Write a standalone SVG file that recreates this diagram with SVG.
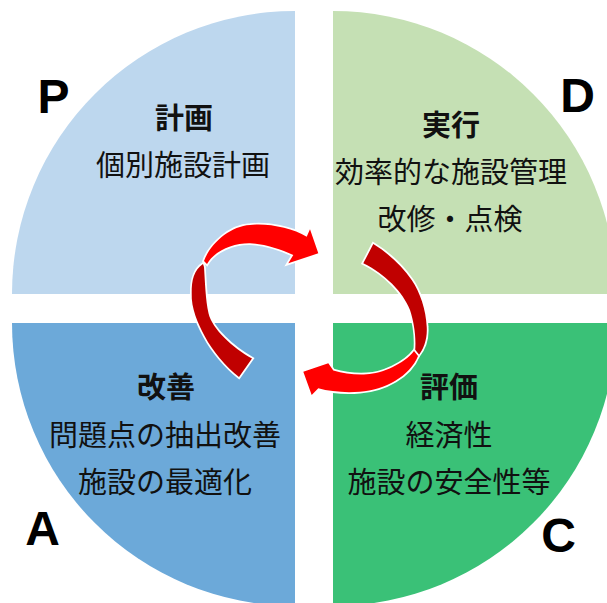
<svg xmlns="http://www.w3.org/2000/svg" width="607" height="603" viewBox="0 0 607 603">
<style>
.t{font-family:"Noto Sans CJK JP","Noto Sans",sans-serif;font-size:29px;fill:#111;text-anchor:middle}
.h{font-weight:bold}
.L{font-family:"Liberation Sans",Arial,sans-serif;font-size:48px;font-weight:bold;fill:#000;text-anchor:middle}
.dk{fill:#C00000;stroke:#fff;stroke-width:3.5;stroke-linejoin:miter;paint-order:stroke}
.br{fill:#FF0000;stroke:#fff;stroke-width:3.5;stroke-linejoin:miter;paint-order:stroke}
</style>
<rect width="607" height="603" fill="#fff"/>
<g id="plan">
<path d="M295,294 L12,294 A283,283 0 0 1 295,11 Z" fill="#BDD7EE"/>
<text class="L" x="53.5" y="113">P</text>
<text class="t h" x="184" y="129">計画</text>
<text class="t" x="183" y="176">個別施設計画</text>
</g>
<g id="do">
<path d="M333,294 L333,11 A283,283 0 0 1 616,294 Z" fill="#C5E0B4"/>
<text class="L" x="577.5" y="112">D</text>
<text class="t h" x="451" y="136">実行</text>
<text class="t" x="451" y="183">効率的な施設管理</text>
<text class="t" x="450" y="230">改修・点検</text>
</g>
<g id="act">
<path d="M295,323 L295,606 A283,283 0 0 1 12,323 Z" fill="#6CA9D9"/>
<text class="L" x="42.5" y="545">A</text>
<text class="t h" x="166" y="398">改善</text>
<text class="t" x="165" y="446">問題点の抽出改善</text>
<text class="t" x="165" y="493">施設の最適化</text>
</g>
<g id="check">
<path d="M333,323 L616,323 A283,283 0 0 1 333,606 Z" fill="#3AC177"/>
<text class="L" x="558.5" y="552">C</text>
<text class="t h" x="449" y="398">評価</text>
<text class="t" x="449" y="446">経済性</text>
<text class="t" x="449" y="493">施設の安全性等</text>
</g>
<g id="connectors">
<path class="dk" d="M239,377 C226,367 212,350 205,336.7 C198,324 191,308 191.7,293.3 C191.5,280 194,270 203,264 L204,267 C205,282 205.5,300 208.5,313.3 C212,329 233,348 252,358.5 Z"/>
<path class="br" d="M204,261 C210,244 230,226 250,225 C268,223 292,228 306.7,236.7 L310,229.3 L318.3,253.3 L288.3,263.3 L293.3,255 C280,249 264,244 250,243.3 C234,243 215,250 207,264 Z"/>
<path class="dk" d="M373.3,244 C388,253 402,266 411.7,280 C420,292 426,310 426.7,326.7 C427.5,338 424,349 418,356 L415,352 C416.5,338 414,322 410,310 C403,292 385,274 363.3,263.3 Z"/>
<path class="br" d="M418,356 C410,376 385,390 360,391.7 C345,393 330,391.5 318.3,388.3 L311.7,395 L303.3,371.7 L328.3,363.3 L333.3,370.5 C344,373.5 355,375 366.7,374.3 C382,373.5 404,364 414,351 Z"/>
</g>
</svg>
